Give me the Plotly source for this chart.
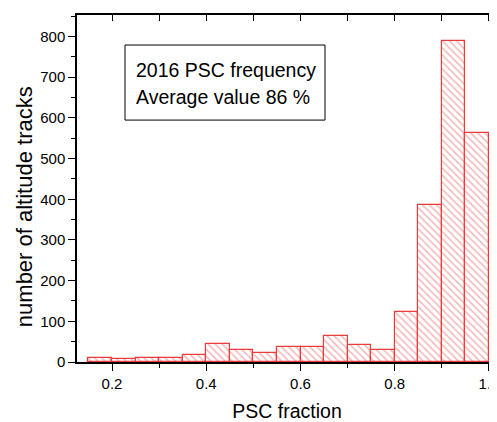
import plotly.graph_objects as go

bin_left = [0.15, 0.20, 0.25, 0.30, 0.35, 0.40, 0.45, 0.50, 0.55, 0.60, 0.65, 0.70, 0.75, 0.80, 0.85, 0.90, 0.95]
counts = [9, 7, 9, 9, 18, 45, 29, 23, 38, 36, 63, 43, 30, 124, 385, 790, 562]
bin_width = 0.05
box_lines = ["2016 PSC frequency", "Average value 86 %"]
x_title = "PSC fraction"
y_title = "number of altitude tracks"

centers = [b + bin_width / 2 for b in bin_left]

FONT = "Liberation Sans, Arial, sans-serif"
OFF = 8  # page body margin

fig = go.Figure()
fig.add_trace(go.Bar(
    x=centers, y=counts, width=bin_width,
    marker=dict(
        color="white",
        line=dict(color="rgb(235,60,60)", width=1.2),
        pattern=dict(shape="\\", fgcolor="rgb(235,110,110)", bgcolor="white", size=5, solidity=0.3),
    ),
    showlegend=False,
))
fig.add_trace(go.Scatter(x=[0.5], y=[0], xaxis="x2", yaxis="y2", mode="markers",
                         marker=dict(opacity=0), showlegend=False, hoverinfo="skip"))

FW, FH = 497 - OFF, 422 - OFF
L, T = 77 - OFF, 15 - OFF
B = FH - (361.7 - OFF)
xr = [0.1257, 1.017]
yr = [0, 853]
fig.update_layout(
    width=FW, height=FH,
    margin=dict(l=L, r=0, t=T, b=B, autoexpand=False),
    paper_bgcolor="white", plot_bgcolor="white",
    font=dict(family=FONT, size=15, color="black"),
    bargap=0,
    xaxis=dict(range=xr, tickvals=[0.2, 0.4, 0.6, 0.8, 1.0], ticktext=["0.2", "0.4", "0.6", "0.8", "1.0"],
               ticks="outside", ticklen=7, tickwidth=1, tickcolor="black",
               minor=dict(tickvals=[0.3, 0.5, 0.7, 0.9], ticks="outside", ticklen=4, tickcolor="black"),
               showline=True, linecolor="black", linewidth=1.5, showgrid=False, zeroline=False,
               title=dict(text=x_title, font=dict(size=19.5), standoff=16),
               tickfont=dict(size=15), automargin=False, ticklabeloverflow="allow"),
    yaxis=dict(range=yr, tickvals=[0, 100, 200, 300, 400, 500, 600, 700, 800],
               ticks="outside", ticklen=7, tickwidth=1, tickcolor="black",
               minor=dict(tickvals=[50, 150, 250, 350, 450, 550, 650, 750, 850], ticks="outside", ticklen=4, tickcolor="black"),
               showline=True, linecolor="black", linewidth=1.5, showgrid=False, zeroline=False,
               tickfont=dict(size=15), automargin=False),
    xaxis2=dict(range=xr, overlaying="x", side="top", tickvals=[0.2, 0.3, 0.4, 0.5, 0.6, 0.7, 0.8, 0.9, 1.0],
                ticks="inside", ticklen=6, tickcolor="black", showticklabels=False,
                showline=True, linecolor="black", linewidth=1.5, showgrid=False, zeroline=False),
    yaxis2=dict(range=yr, overlaying="y", side="right", tickvals=[100, 200, 300, 400, 500, 600, 700, 800],
                ticks="inside", ticklen=6, tickcolor="black", showticklabels=False,
                showline=False, showgrid=False, zeroline=False),
)

PW, PH = FW - L, FH - T - B
def px(x): return (x - OFF - L) / PW
def py(y): return (FH - B - (y - OFF)) / PH

# y-axis title (placed where the reference has it)
fig.add_annotation(xref="paper", yref="paper", x=px(24), y=py(207), xanchor="center", yanchor="middle",
                   text=y_title, textangle=-90, showarrow=False, font=dict(size=22, family=FONT, color="black"))

fig.add_shape(type="rect", xref="paper", yref="paper", x0=px(125), x1=px(325), y0=py(120), y1=py(45),
              line=dict(color="black", width=1), fillcolor="white", layer="above")
for i, t in enumerate(box_lines):
    fig.add_annotation(xref="paper", yref="paper", x=px(134), y=py(70 + 27 * i), xanchor="left", yanchor="middle",
                       text=t, showarrow=False, font=dict(size=19.5, family=FONT, color="black"))

fig.write_html("out.html")
